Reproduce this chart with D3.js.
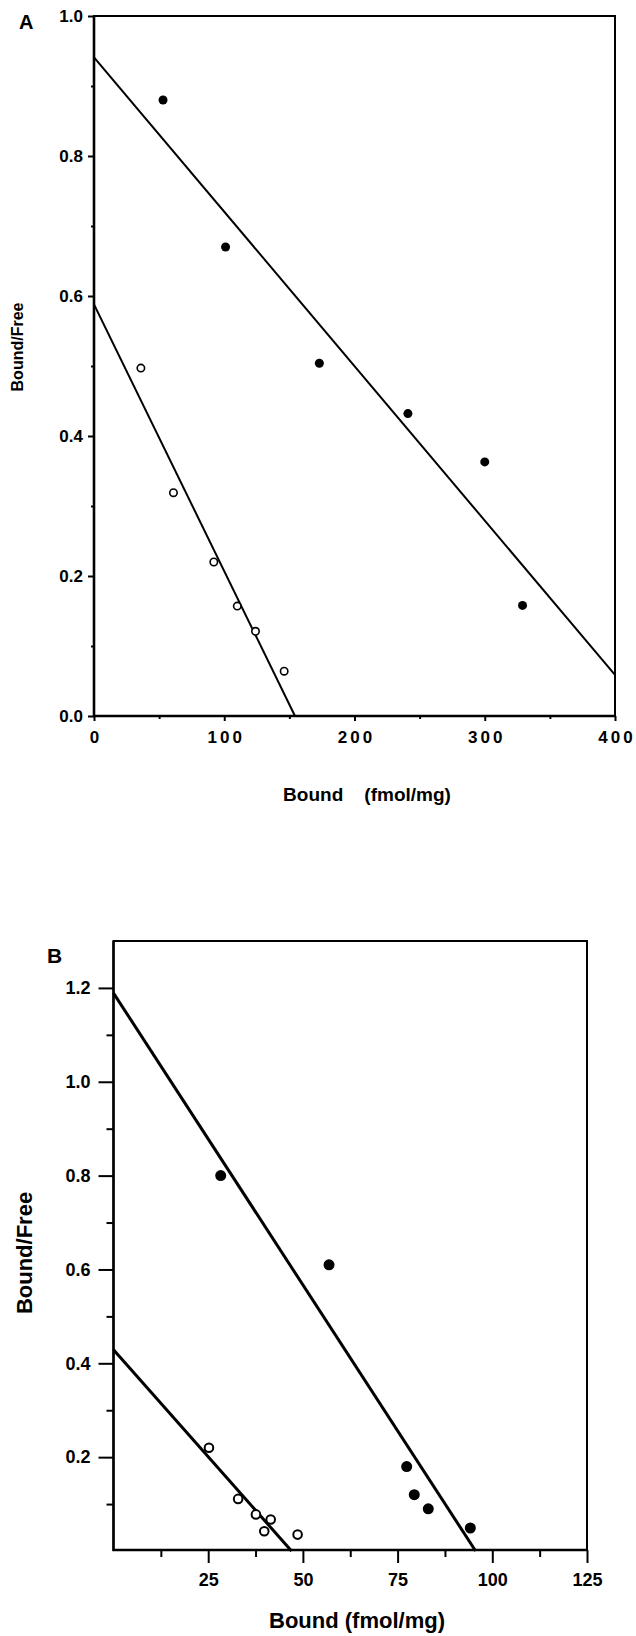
<!DOCTYPE html>
<html>
<head>
<meta charset="utf-8">
<script src="https://cdn.jsdelivr.net/npm/d3@7"></script>
<style>
  body { margin: 0; background: #fff; }
  svg { display: block; }
  text { font-family: "Liberation Sans", Arial, Helvetica, sans-serif; font-weight: bold; fill: #000; }
  .domain { display: none; }
</style>
</head>
<body>
<div id="chart"></div>
<script>
const width = 636, height = 1636;

// panel A
const aTicksX = [0, 100, 200, 300, 400];
const aMinorX = [50, 150, 250, 350];
const aTicksY = [0, 0.2, 0.4, 0.6, 0.8, 1.0];
const aMinorY = [0.1, 0.3, 0.5, 0.7, 0.9];
const aBoundFilled = [53, 101, 173, 241, 300, 329];
const aRatioFilled = [0.88, 0.67, 0.504, 0.432, 0.363, 0.158];
const aBoundOpen = [36, 61, 92, 110, 124, 146];
const aRatioOpen = [0.497, 0.319, 0.22, 0.157, 0.121, 0.064];
const aFitFilled = [[0, 0.941], [400, 0.0586]];
const aFitOpen = [[0, 0.588], [154.3, 0]];

// panel B
const bTicksX = [25, 50, 75, 100, 125];
const bMinorX = [12.5, 37.5, 62.5, 87.5, 112.5];
const bTicksY = [0.2, 0.4, 0.6, 0.8, 1.0, 1.2];
const bMinorY = [0.1, 0.3, 0.5, 0.7, 0.9, 1.1];
const bBoundFilled = [28.3, 56.9, 77.4, 79.4, 83.1, 94.2];
const bRatioFilled = [0.80, 0.61, 0.18, 0.12, 0.09, 0.049];
const bBoundOpen = [25.2, 32.9, 37.6, 41.5, 39.8, 48.6];
const bRatioOpen = [0.22, 0.111, 0.078, 0.067, 0.042, 0.035];
const bFitFilled = [[0, 1.189], [95.6, 0]];
const bFitOpen = [[0, 0.429], [47, 0]];

let svg = d3.select("#chart")
  .append("svg")
  .attr("width", width)
  .attr("height", height);

function drawPanel(p) {
  let g = svg.append("g");
  let x = d3.scaleLinear().domain(p.xDomain).range(p.xRange);
  let y = d3.scaleLinear().domain(p.yDomain).range(p.yRange);
  let x0 = p.xRange[0], x1 = p.xRange[1];
  let yTop = p.yRange[1], yBot = p.axisY;

  // minor ticks first
  g.append("g")
    .attr("transform", "translate(0," + yBot + ")")
    .call(d3.axisBottom(x).tickValues(p.minorX).tickSize(p.minorLen).tickFormat(""));
  g.append("g")
    .attr("transform", "translate(" + x0 + ",0)")
    .call(d3.axisLeft(y).tickValues(p.minorY).tickSize(p.minorLen).tickFormat(""));

  let xAxis = g.append("g")
    .attr("transform", "translate(0," + yBot + ")")
    .call(d3.axisBottom(x).tickValues(p.ticksX).tickSize(p.majorLenX)
      .tickPadding(p.padX).tickFormat(d3.format("d")));
  xAxis.selectAll("text")
    .style("font-size", p.tickFont + "px")
    .style("letter-spacing", p.spacing + "px")
    .attr("dx", p.spacing / 2);

  let yAxis = g.append("g")
    .attr("transform", "translate(" + x0 + ",0)")
    .call(d3.axisLeft(y).tickValues(p.ticksY).tickSize(p.majorLenY)
      .tickPadding(p.padY).tickFormat(d3.format(".1f")));
  yAxis.selectAll("text").style("font-size", p.tickFont + "px");

  g.selectAll(".tick line")
    .attr("stroke", "#000")
    .attr("stroke-width", p.frameW);

  // frame: top/right thinner, left/bottom axis lines heavier
  g.append("rect")
    .attr("x", x0).attr("y", yTop)
    .attr("width", x1 - x0).attr("height", yBot - yTop)
    .attr("fill", "none")
    .attr("stroke", "#000")
    .attr("stroke-width", p.frameW);
  g.append("path")
    .attr("d", "M" + x0 + "," + yTop + "V" + yBot + "H" + x1)
    .attr("fill", "none")
    .attr("stroke", "#000")
    .attr("stroke-width", p.axisW);

  let line = d3.line().x((d) => x(d[0])).y((d) => y(d[1]));
  [p.fitFilled, p.fitOpen].forEach(function(f) {
    g.append("path")
      .attr("d", line(f))
      .attr("fill", "none")
      .attr("stroke", "#000")
      .attr("stroke-width", p.lineW);
  });

  g.append("g").selectAll("circle")
    .data(p.boundFilled)
    .join("circle")
    .attr("cx", (d) => x(d))
    .attr("cy", (d, i) => y(p.ratioFilled[i]))
    .attr("r", p.rFilled)
    .attr("fill", "#000");

  g.append("g").selectAll("circle")
    .data(p.boundOpen)
    .join("circle")
    .attr("cx", (d) => x(d))
    .attr("cy", (d, i) => y(p.ratioOpen[i]))
    .attr("r", p.rOpen)
    .attr("fill", "#fff")
    .attr("stroke", "#000")
    .attr("stroke-width", p.openW);

  g.append("text")
    .attr("x", p.letterPos[0]).attr("y", p.letterPos[1])
    .style("font-size", p.letterFont + "px")
    .text(p.letter);

  g.append("text")
    .attr("transform", "translate(" + p.yTitlePos[0] + "," + p.yTitlePos[1] + ") rotate(-90)")
    .attr("text-anchor", "middle")
    .style("font-size", p.yTitleFont + "px")
    .text("Bound/Free");

  g.append("text")
    .attr("x", p.xTitlePos[0]).attr("y", p.xTitlePos[1])
    .attr("text-anchor", "middle")
    .attr("xml:space", "preserve")
    .style("white-space", "pre")
    .style("font-size", p.xTitleFont + "px")
    .text(p.xTitle);
}

drawPanel({
  xDomain: [0, 400], xRange: [94, 615],
  yDomain: [0, 1], yRange: [716, 16], axisY: 716,
  ticksX: aTicksX, minorX: aMinorX, ticksY: aTicksY, minorY: aMinorY,
  majorLenX: 5, majorLenY: 6, minorLen: 3, padX: 10, padY: 5,
  tickFont: 17, spacing: 3, frameW: 2, axisW: 2.6, lineW: 2,
  boundFilled: aBoundFilled, ratioFilled: aRatioFilled,
  boundOpen: aBoundOpen, ratioOpen: aRatioOpen,
  fitFilled: aFitFilled, fitOpen: aFitOpen,
  rFilled: 4.5, rOpen: 3.7, openW: 1.6,
  letter: "A", letterPos: [19, 29], letterFont: 20,
  yTitlePos: [23, 347], yTitleFont: 16,
  xTitle: "Bound    (fmol/mg)", xTitlePos: [367, 801], xTitleFont: 19
});

drawPanel({
  xDomain: [0, 125], xRange: [113.5, 587],
  yDomain: [0, 1.3], yRange: [1551, 941], axisY: 1550,
  ticksX: bTicksX, minorX: bMinorX, ticksY: bTicksY, minorY: bMinorY,
  majorLenX: 13, majorLenY: 15, minorLen: 7, padX: 10, padY: 8,
  tickFont: 18, spacing: 0, frameW: 2, axisW: 2.4, lineW: 3,
  boundFilled: bBoundFilled, ratioFilled: bRatioFilled,
  boundOpen: bBoundOpen, ratioOpen: bRatioOpen,
  fitFilled: bFitFilled, fitOpen: bFitOpen,
  rFilled: 5.5, rOpen: 4.3, openW: 2,
  letter: "B", letterPos: [47, 963], letterFont: 21,
  yTitlePos: [32, 1253], yTitleFont: 22,
  xTitle: "Bound (fmol/mg)", xTitlePos: [357, 1628], xTitleFont: 22
});
</script>
</body>
</html>
